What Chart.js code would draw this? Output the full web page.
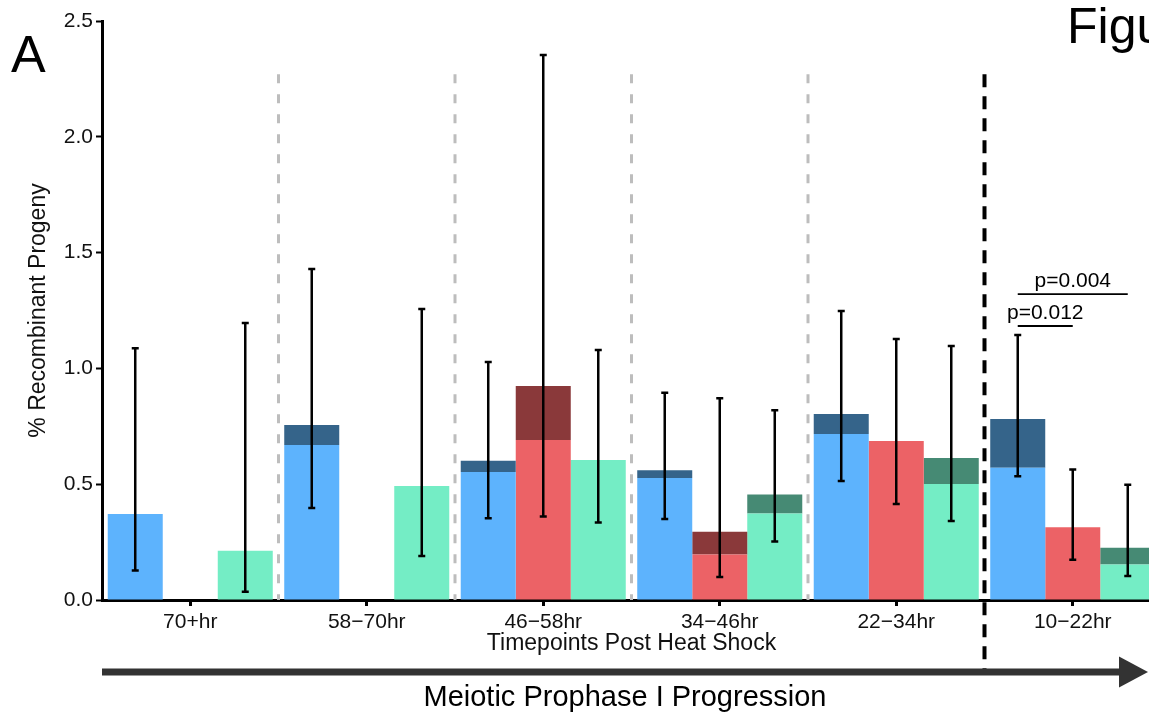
<!DOCTYPE html>
<html>
<head>
<meta charset="utf-8">
<script src="https://cdn.jsdelivr.net/npm/chart.js@4"></script>
<style>
html, body { margin: 0; padding: 0; background: #fff; overflow: hidden; }
#wrap { position: relative; width: 1161px; height: 712px; }
</style>
</head>
<body>
<div id="wrap"><canvas id="chart"></canvas></div>
<script>
// timepoints, oldest first
const categories = ['70+hr', '58\u221270hr', '46\u221258hr', '34\u221246hr', '22\u221234hr', '10\u221222hr'];

// light part of each bar and full bar height (dark cap = total - base)
const blueBase   = [0.371, 0.669, 0.553, 0.527, 0.717, 0.571];
const blueTotal  = [0.371, 0.756, 0.601, 0.560, 0.803, 0.781];
const redBase    = [null, null, 0.691, 0.196, 0.687, 0.314];
const redTotal   = [null, null, 0.924, 0.295, 0.687, 0.314];
const greenBase  = [0.213, 0.492, 0.605, 0.373, 0.501, 0.153];
const greenTotal = [0.213, 0.492, 0.605, 0.456, 0.613, 0.226];

// error bar ends
const blueLo  = [0.127, 0.397, 0.353, 0.350, 0.514, 0.534];
const blueHi  = [1.087, 1.429, 1.028, 0.895, 1.248, 1.144];
const redLo   = [null, null, 0.360, 0.099, 0.415, 0.174];
const redHi   = [null, null, 2.353, 0.871, 1.127, 0.563];
const greenLo = [0.036, 0.190, 0.335, 0.253, 0.341, 0.104];
const greenHi = [1.196, 1.256, 1.079, 0.819, 1.097, 0.498];

// significance brackets in the last timepoint: [from series, to series, height, label]
const brackets = [
  [0, 1, 1.183, 'p=0.012'],
  [0, 2, 1.321, 'p=0.004']
];
const dividerTop = 2.27;

const cap = (tot, base) => tot.map((t, i) => t == null ? null : +(t - base[i]).toFixed(3));

Chart.defaults.font.family = "'Liberation Sans', Arial, sans-serif";
Chart.defaults.color = '#111';

const errs = [[blueLo, blueHi], [redLo, redHi], [greenLo, greenHi]];
const baseIdx = [0, 2, 4];

const overlay = {
  id: 'overlay',
  beforeDatasetsDraw(chart) {
    const { ctx, scales: { x, y } } = chart;
    ctx.save();
    for (let i = 0; i < categories.length - 1; i++) {
      const sx = (x.getPixelForValue(i) + x.getPixelForValue(i + 1)) / 2;
      const last = i === categories.length - 2;
      ctx.beginPath();
      ctx.strokeStyle = last ? '#000' : '#bdbdbd';
      ctx.lineWidth = last ? 4 : 3;
      ctx.setLineDash(last ? [13, 9] : [9, 11]);
      ctx.moveTo(sx, y.getPixelForValue(dividerTop));
      ctx.lineTo(sx, last ? chart.height - 40 : y.getPixelForValue(0));
      ctx.stroke();
    }
    ctx.restore();
  },
  afterDatasetsDraw(chart) {
    const { ctx, scales: { y } } = chart;
    ctx.save();
    ctx.strokeStyle = '#000';
    errs.forEach(([lo, hi], s) => {
      const meta = chart.getDatasetMeta(baseIdx[s]);
      lo.forEach((v, i) => {
        if (v == null) return;
        const bx = meta.data[i].x;
        const y1 = y.getPixelForValue(v), y2 = y.getPixelForValue(hi[i]);
        ctx.lineWidth = 2.5;
        ctx.beginPath();
        ctx.moveTo(bx, y1); ctx.lineTo(bx, y2);
        ctx.moveTo(bx - 3.5, y1); ctx.lineTo(bx + 3.5, y1);
        ctx.moveTo(bx - 3.5, y2); ctx.lineTo(bx + 3.5, y2);
        ctx.stroke();
      });
    });
    // brackets
    const last = categories.length - 1;
    ctx.lineWidth = 1.8;
    ctx.fillStyle = '#000';
    ctx.font = "21px 'Liberation Sans', Arial, sans-serif";
    ctx.textAlign = 'center';
    ctx.textBaseline = 'alphabetic';
    brackets.forEach(([a, b, h, label]) => {
      const x1 = chart.getDatasetMeta(baseIdx[a]).data[last].x;
      const x2 = chart.getDatasetMeta(baseIdx[b]).data[last].x;
      const by = y.getPixelForValue(h);
      ctx.beginPath();
      ctx.moveTo(x1, by); ctx.lineTo(x2, by);
      ctx.stroke();
      ctx.fillText(label, (x1 + x2) / 2, by - 7);
    });
    ctx.restore();
  },
  afterDraw(chart) {
    const { ctx, chartArea } = chart;
    ctx.save();
    // progression arrow
    const ay = chart.height - 40, tip = 1148;
    ctx.strokeStyle = '#333';
    ctx.fillStyle = '#333';
    ctx.lineWidth = 7;
    ctx.beginPath();
    ctx.moveTo(chartArea.left, ay); ctx.lineTo(tip - 26, ay);
    ctx.stroke();
    ctx.beginPath();
    ctx.moveTo(tip - 29, ay - 15.5); ctx.lineTo(tip, ay); ctx.lineTo(tip - 29, ay + 15.5);
    ctx.closePath(); ctx.fill();
    ctx.fillStyle = '#000';
    ctx.textAlign = 'center';
    ctx.font = "29px 'Liberation Sans', Arial, sans-serif";
    ctx.fillText('Meiotic Prophase I Progression', (chartArea.left + tip) / 2, 706);
    ctx.textAlign = 'left';
    ctx.font = "52px 'Liberation Sans', Arial, sans-serif";
    ctx.fillText('A', 11, 72);
    ctx.font = "50px 'Liberation Sans', Arial, sans-serif";
    ctx.fillText('Figure 1', 1067, 43);
    ctx.restore();
  }
};

new Chart(document.getElementById('chart'), {
  type: 'bar',
  data: {
    labels: categories,
    datasets: [
      { data: blueBase, stack: 'b', backgroundColor: '#5db3fd' },
      { data: cap(blueTotal, blueBase), stack: 'b', backgroundColor: '#35648a' },
      { data: redBase, stack: 'r', backgroundColor: '#ec6266' },
      { data: cap(redTotal, redBase), stack: 'r', backgroundColor: '#8a393a' },
      { data: greenBase, stack: 'g', backgroundColor: '#74edc5' },
      { data: cap(greenTotal, greenBase), stack: 'g', backgroundColor: '#468a74' }
    ].map(d => Object.assign(d, { categoryPercentage: 0.935, barPercentage: 1.0, borderWidth: 0 }))
  },
  options: {
    responsive: true,
    maintainAspectRatio: false,
    animation: false,
    layout: { padding: { top: 21, left: 0, right: 0, bottom: 0 } },
    plugins: { legend: { display: false }, tooltip: { enabled: false } },
    scales: {
      x: {
        afterFit(s) { s.height = 112; },
        grid: { display: true, drawOnChartArea: false, offset: false, tickLength: 6, tickColor: '#000', tickWidth: 3 },
        border: { display: true, color: '#000', width: 3 },
        ticks: { font: { size: 21 }, padding: 4, color: '#111', maxRotation: 0 },
        title: { display: true, text: 'Timepoints Post Heat Shock', font: { size: 23 }, color: '#111', padding: { top: 0, bottom: 55 } }
      },
      y: {
        stacked: true,
        min: 0, max: 2.5,
        afterFit(s) { s.width = 102; },
        grid: { display: true, drawOnChartArea: false, tickLength: 6, tickColor: '#000', tickWidth: 2 },
        border: { display: true, color: '#000', width: 3 },
        ticks: { stepSize: 0.5, font: { size: 21 }, padding: 3, color: '#111', callback: v => v.toFixed(1) },
        title: { display: true, text: '% Recombinant Progeny', font: { size: 23 }, color: '#111', padding: { top: 25, bottom: 0 } }
      }
    }
  },
  plugins: [overlay]
});
</script>
</body>
</html>
